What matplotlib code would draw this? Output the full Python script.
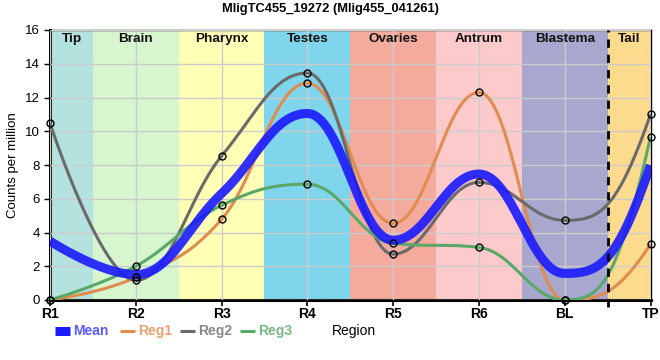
import numpy as np
import matplotlib
matplotlib.use('Agg')
import matplotlib.pyplot as plt
from matplotlib.lines import Line2D

plt.rcParams['font.family'] = ['Liberation Sans', 'DejaVu Sans']

regions = ["R1", "R2", "R3", "R4", "R5", "R6", "BL", "TP"]
reg1 = [0.0, 1.35, 4.78, 12.85, 4.54, 12.3, 0.0, 3.3]
reg2 = [10.47, 1.17, 8.53, 13.45, 2.72, 6.97, 4.72, 11.0]
reg3 = [0.0, 2.0, 5.61, 6.86, 3.36, 3.12, 0.0, 9.66]
mean = [(a + b + c) / 3 for a, b, c in zip(reg1, reg2, reg3)]

band_names = ["Tip", "Brain", "Pharynx", "Testes", "Ovaries", "Antrum", "Blastema", "Tail"]
band_colors = ["#b4e2de", "#d7f5cf", "#ffffb5", "#7fd5ec", "#f4aa9c", "#fdcacb", "#a8a8ce", "#fddb8e"]


def spline_curve(xs, ys, n=50, smoothing=1.5):
    # bezier spline with flattened extremes
    xs = [float(v) for v in xs]
    ys = [float(v) for v in ys]
    npts = len(xs)
    left = [(xs[i], ys[i]) for i in range(npts)]
    right = [(xs[i], ys[i]) for i in range(npts)]
    denom = smoothing + 1
    for i in range(1, npts - 1):
        px, py = xs[i], ys[i]
        lx, ly = xs[i - 1], ys[i - 1]
        nx, ny = xs[i + 1], ys[i + 1]
        lcx = (smoothing * px + lx) / denom
        lcy = (smoothing * py + ly) / denom
        rcx = (smoothing * px + nx) / denom
        rcy = (smoothing * py + ny) / denom
        corr = (rcy - lcy) * (rcx - px) / (rcx - lcx) + py - rcy
        lcy += corr
        rcy += corr
        if lcy > ly and lcy > py:
            lcy = max(ly, py)
            rcy = 2 * py - lcy
        elif lcy < ly and lcy < py:
            lcy = min(ly, py)
            rcy = 2 * py - lcy
        if rcy > ny and rcy > py:
            rcy = max(ny, py)
            lcy = 2 * py - rcy
        elif rcy < ny and rcy < py:
            rcy = min(ny, py)
            lcy = 2 * py - rcy
        left[i] = (lcx, lcy)
        right[i] = (rcx, rcy)
    # the last segment in the reference bends late, steep into the end point
    h = xs[-1] - xs[-2]
    left[-1] = (xs[-1] - h / denom, ys[-2] + 0.07 * (ys[-1] - ys[-2]))
    t = np.linspace(0, 1, n)
    out_x, out_y = [], []
    for k in range(npts - 1):
        p0 = (xs[k], ys[k])
        p1 = right[k]
        p2 = left[k + 1]
        p3 = (xs[k + 1], ys[k + 1])
        b0 = (1 - t)**3
        b1 = 3 * (1 - t)**2 * t
        b2 = 3 * (1 - t) * t**2
        b3 = t**3
        out_x.extend(b0 * p0[0] + b1 * p1[0] + b2 * p2[0] + b3 * p3[0])
        out_y.extend(b0 * p0[1] + b1 * p1[1] + b2 * p2[1] + b3 * p3[1])
    return np.array(out_x), np.array(out_y)


fig = plt.figure(figsize=(6.6, 3.6), dpi=100)
ax = fig.add_axes([50 / 660, 1 - 300 / 360, 600.5 / 660, 270 / 360])

x = np.arange(len(regions))
for i, (name, col) in enumerate(zip(band_names, band_colors)):
    lo = max(i - 0.5, 0)
    hi = min(i + 0.5, len(regions) - 1)
    ax.axvspan(lo, hi, color=col, lw=0, zorder=0)
    ax.text((lo + hi) / 2, 15.8, name, ha='center', va='top',
            fontsize=9.7, fontweight='bold', color='#111111', zorder=5)

ax.grid(True, color='#cccccc', lw=1, zorder=1)
ax.set_axisbelow(False)
ax.axvline(6.5, ymin=-0.025, ymax=1, color='black', ls=(0, (3, 2.5)), lw=2, zorder=6, clip_on=False)

colors = {"Mean": "#1a1aff", "Reg1": "#e08c50", "Reg2": "#6a6a6a", "Reg3": "#5aa868"}
series = [(reg1, "Reg1"), (reg2, "Reg2"), (reg3, "Reg3")]
for vals, lab in series:
    cx, cy = spline_curve(x, vals)
    ax.plot(cx, cy, color=colors[lab], lw=2.2, zorder=3, solid_capstyle='butt')

mx, my = spline_curve(x, mean)
ax.plot(mx, my, color=colors["Mean"], lw=6.5, alpha=0.9, zorder=4, solid_capstyle='butt')

for vals, lab in series:
    ax.plot(x, vals, ls='none', marker='o', ms=5, mfc='none', mec='black', mew=1, zorder=7, clip_on=False)

ax.set_xlim(0, len(regions) - 1)
ax.set_ylim(0, 16)
ax.set_yticks(range(0, 17, 2))
ax.set_xticks(x)
ax.set_xticklabels(regions, fontweight='bold', fontsize=10)
ax.tick_params(axis='y', labelsize=9.5, length=4, width=1)
ax.tick_params(axis='x', length=4, width=1.2, pad=1)
for side in ['left', 'bottom']:
    ax.spines[side].set_linewidth(2.2)
for side in ['top', 'right']:
    ax.spines[side].set_linewidth(1)
ax.set_ylabel("Counts per million", fontsize=9.5)
ax.yaxis.set_label_coords(-31 / 600.5, 0.5)

fig.suptitle("MligTC455_19272 (Mlig455_041261)", fontsize=9.3, fontweight='bold', y=0.993)

# legend drawn by hand, one entry after another
legend_items = ["Mean", "Reg1", "Reg2", "Reg3"]
text_colors = ["#5a5aff", "#eaa070", "#888888", "#78b886"]
handle_x = [55, 120, 180, 240]
ly = 1 - 331 / 360
for lab, tc, hx in zip(legend_items, text_colors, handle_x):
    lw = 6.5 if lab == "Mean" else 2.2
    fig.add_artist(Line2D([hx / 660, (hx + 15) / 660], [ly, ly], color=colors[lab], lw=lw,
                          transform=fig.transFigure, solid_capstyle='butt'))
    fig.text((hx + 18) / 660, ly, lab, ha='left', va='center', fontsize=10,
             fontweight='bold', color=tc)
fig.text(332 / 660, ly, "Region", ha='left', va='center', fontsize=10)

fig.savefig("out.png", dpi=100)
